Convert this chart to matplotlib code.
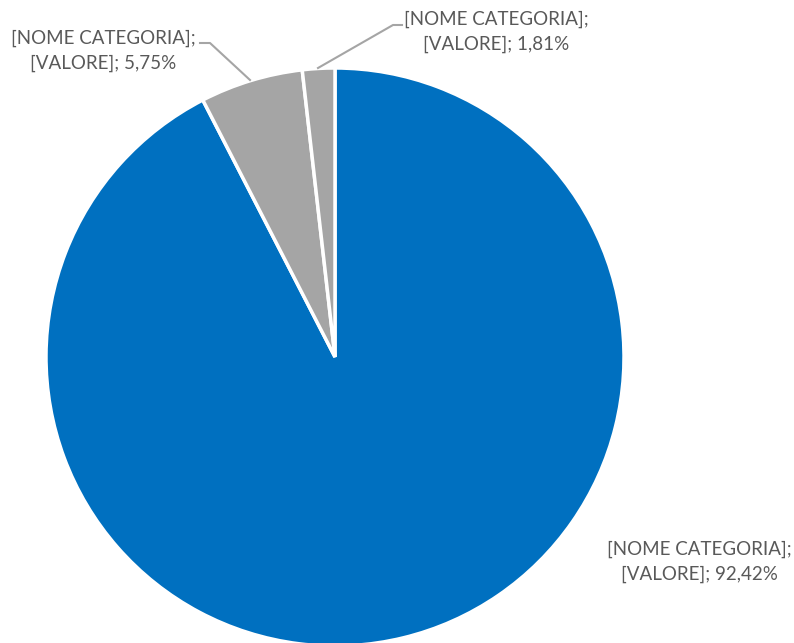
import matplotlib
matplotlib.use("Agg")
import matplotlib.pyplot as plt

categories = ['[NOME CATEGORIA]', '[NOME CATEGORIA]', '[NOME CATEGORIA]']
values = [92.42, 5.75, 1.81]
value_labels = ['92,42%', '5,75%', '1,81%']
colors = ['#0070C0', '#A5A5A5', '#A5A5A5']

plt.rcParams['font.family'] = ['Lato', 'DejaVu Sans']

W, H = 794, 643
fig = plt.figure(figsize=(W / 100, H / 100), dpi=100)
ax = fig.add_axes([0, 0, 1, 1])

cx, cy, r = 335, H - 357, 289
ax.pie(values, colors=colors, startangle=90, counterclock=False,
       center=(cx, cy), radius=r, frame=True,
       wedgeprops=dict(edgecolor='white', linewidth=2.5))
ax.set_xlim(0, W)
ax.set_ylim(0, H)
ax.set_aspect('equal')
ax.axis('off')

txt = dict(color='#595959', fontsize=13.5, linespacing=1.5)
line = dict(color='#A5A5A5', lw=1.5)

def label(i):
    return f'{categories[i]};\n[VALORE]; {value_labels[i]}'

# 92,42% label
ax.text(699, H - 562, label(0), ha='center', va='center', **txt)

# 1,81% label with leader line
ax.plot([318, 393, 402], [H - 68, H - 25, H - 25], **line)
ax.text(496, H - 32, label(2), ha='center', va='center', **txt)

# 5,75% label with leader line
ax.plot([250, 210, 200], [H - 80, H - 43, H - 43], **line)
ax.text(103, H - 51, label(1), ha='center', va='center', **txt)

fig.savefig('out.png', dpi=100)
